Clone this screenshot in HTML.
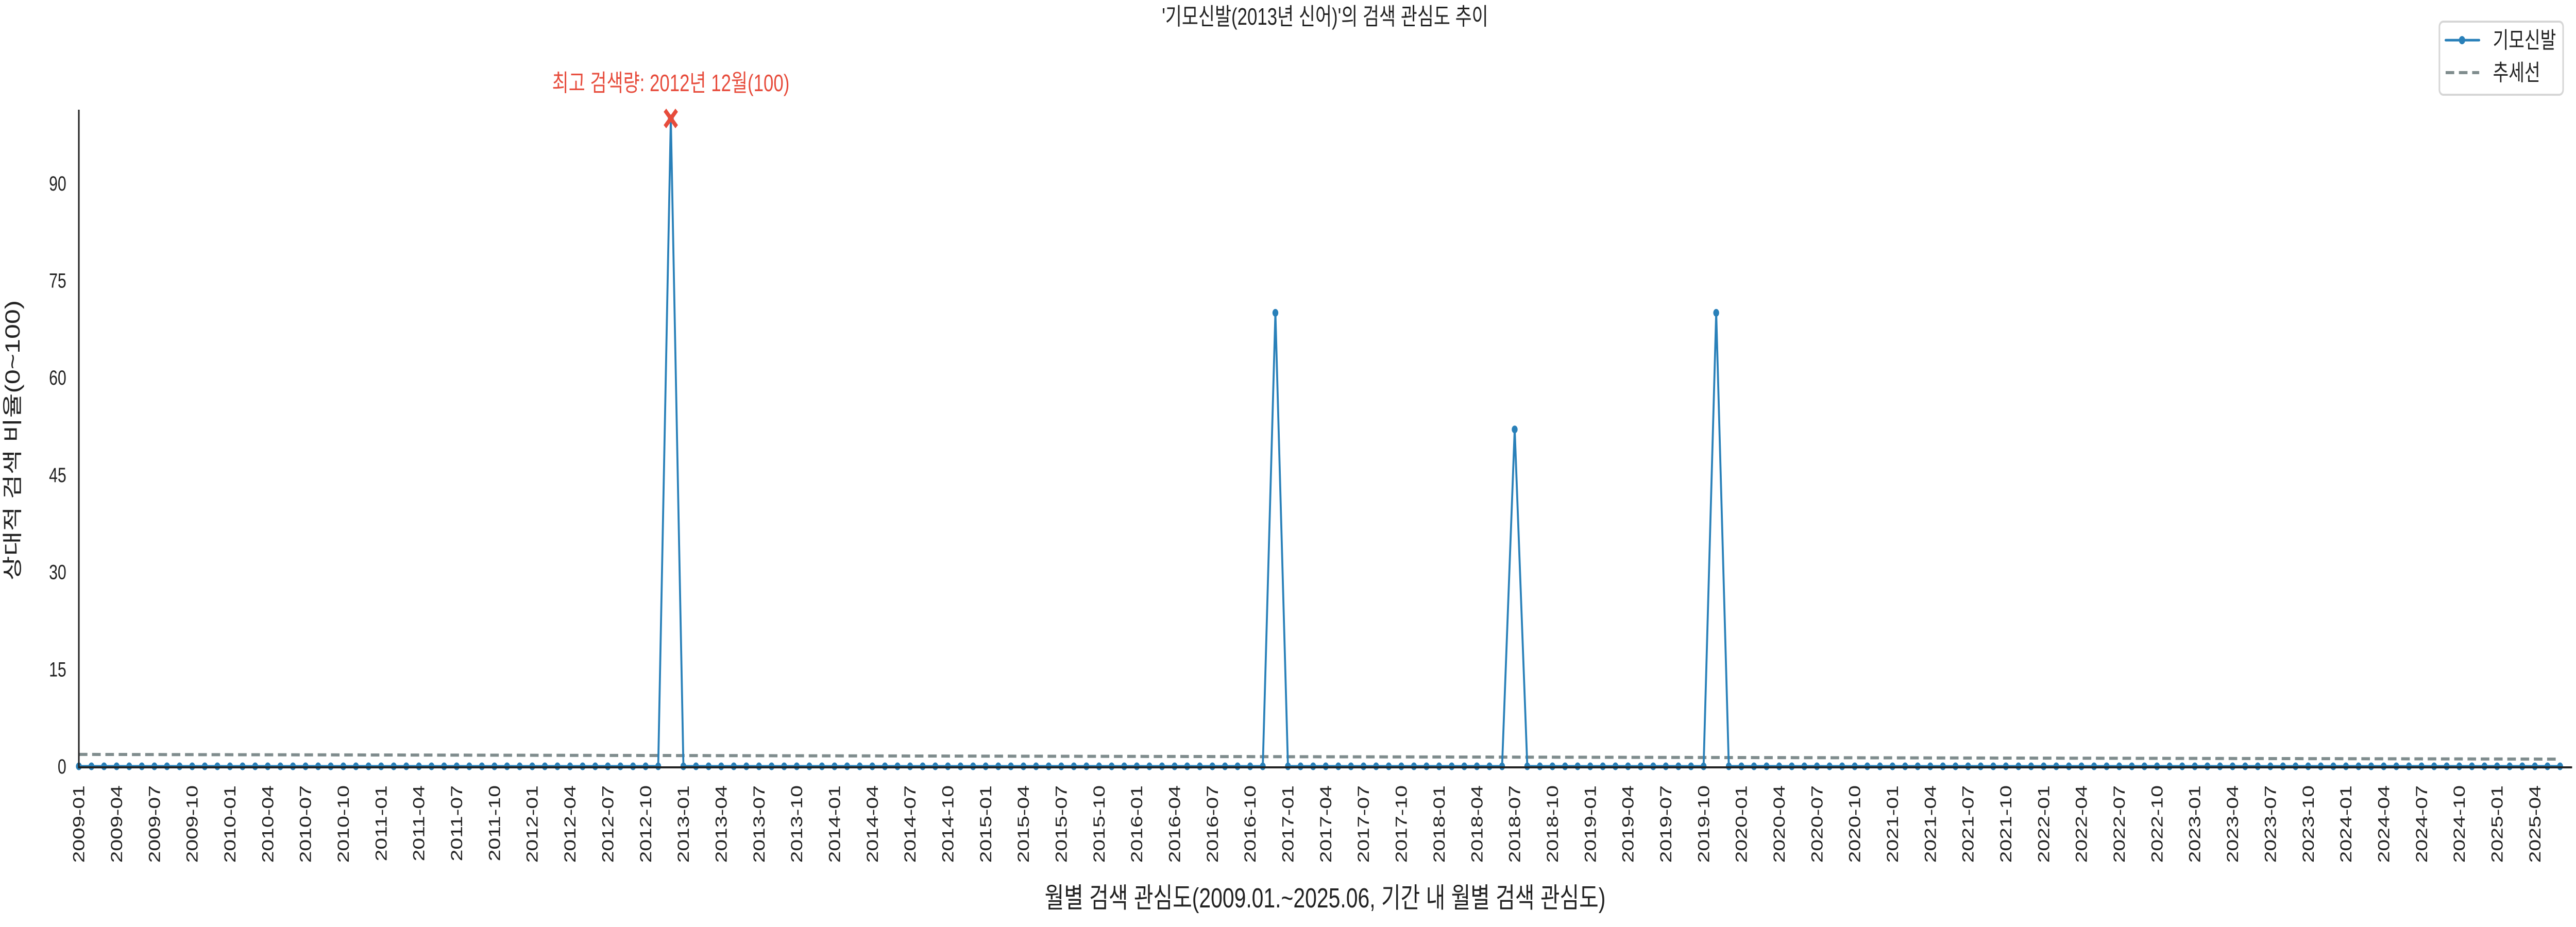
<!DOCTYPE html>
<html><head><meta charset="utf-8"><style>
html,body{margin:0;padding:0;background:#fff;width:100%;height:100%;overflow:hidden;}
svg{display:block;position:absolute;left:0;top:0;width:100vw;height:100vh;font-family:"Liberation Sans","Noto Sans CJK KR",sans-serif;}
</style></head><body>
<svg id="chart" viewBox="0 0 6600 1800" preserveAspectRatio="none" xmlns="http://www.w3.org/2000/svg">
<text x="3395" y="48" text-anchor="middle" font-size="46" fill="#222">'기모신발(2013년 신어)'의 검색 관심도 추이</text>
<text transform="translate(50,855) rotate(-90)" text-anchor="middle" font-size="52" fill="#222">상대적 검색 비율(0~100)</text>
<text x="3395" y="1762" text-anchor="middle" font-size="54" fill="#222">월별 검색 관심도(2009.01.~2025.06, 기간 내 월별 검색 관심도)</text>
<g id="grid"></g>
<g id="plot"></g>
<g>
<rect x="6250" y="42" width="317" height="142" rx="10" fill="#fff" stroke="#d6d6d6" stroke-width="4"/>
<line x1="6266" y1="78" x2="6352" y2="78" stroke="#2980b9" stroke-width="5" stroke-linecap="round"/>
<circle cx="6308" cy="78" r="8" fill="#2980b9"/>
<text x="6387" y="93" font-size="44" fill="#222">기모신발</text>
<line x1="6266" y1="141" x2="6352" y2="141" stroke="#7f8c8d" stroke-width="6" stroke-dasharray="22,12"/>
<text x="6387" y="156" font-size="44" fill="#222">추세선</text>
</g>
</svg>
<script>
const startYear = 2009;
const monthCount = 198;
const peakMonths = ["2012-12", "2016-12", "2018-07", "2019-11"];
const peakValues = [100, 70, 52, 70];
const yTickValues = [0, 15, 30, 45, 60, 75, 90];
const maxLabel = "최고 검색량: 2012년 12월(100)";

const NS = "http://www.w3.org/2000/svg";
const X0 = 202, STEP = 32.27, Y0 = 1488, K = 12.58;
const xs = i => X0 + i * STEP;
const ys = v => Y0 - v * K;
function mk(tag, attrs, parent){ const e=document.createElementNS(NS,tag); for(const k in attrs) e.setAttribute(k,attrs[k]); parent.appendChild(e); return e; }

const labels = [], values = [];
for (let i=0;i<monthCount;i++){
  const y = startYear + Math.floor(i/12), m = i%12+1;
  labels.push(y + "-" + String(m).padStart(2,"0"));
  values.push(0);
}
peakMonths.forEach((p,j)=>{ const idx = labels.indexOf(p); if(idx>=0) values[idx]=peakValues[j]; });

const plot = document.getElementById("plot");
const grid = document.getElementById("grid");

yTickValues.forEach(v=>{
  const t = mk("text",{x:170,y:ys(v)+14,"text-anchor":"end","font-size":"40",fill:"#222"},grid);
  t.textContent = v;
  
  
});
for (let i=0;i<monthCount;i+=3){
  const x = xs(i);
  const t = mk("text",{transform:`translate(${x+14},1525) rotate(-90)`,"text-anchor":"end","font-size":"41",fill:"#222"},grid);
  t.textContent = labels[i];
  
  
}

let n=values.length, sx=0, sy=0, sxx=0, sxy=0;
values.forEach((v,i)=>{sx+=i;sy+=v;sxx+=i*i;sxy+=i*v;});
const slope=(n*sxy-sx*sy)/(n*sxx-sx*sx), icpt=(sy-slope*sx)/n;
const trend = mk("line",{x1:xs(0),y1:ys(icpt),x2:xs(n-1),y2:ys(icpt+slope*(n-1)),stroke:"#7f8c8d","stroke-width":"6","stroke-dasharray":"22,12"},plot);



const pts = values.map((v,i)=>xs(i).toFixed(1)+","+ys(v).toFixed(1)).join(" ");
const line = mk("polyline",{points:pts,fill:"none",stroke:"#2980b9","stroke-width":"5","stroke-linejoin":"round"},plot);


values.forEach((v,i)=>{
  const c = mk("circle",{cx:xs(i),cy:ys(v),r:7.5,fill:"#2980b9"},plot);
  
  
});

const ax1 = mk("line",{x1:202,y1:213,x2:202,y2:1490,stroke:"#222","stroke-width":"4"},plot);


const ax2 = mk("line",{x1:200,y1:1490,x2:6590,y2:1490,stroke:"#222","stroke-width":"4"},plot);



let mi=0; values.forEach((v,i)=>{ if(v>values[mi]) mi=i; });
const mx=xs(mi), my=ys(values[mi]);
const xm = mk("path",{d:`M${mx-15},${my-16}L${mx+15},${my+16}M${mx+15},${my-16}L${mx-15},${my+16}`,stroke:"#e74c3c","stroke-width":"9"},plot);


const at = mk("text",{x:mx,y:my-53,"text-anchor":"middle","font-size":"46",fill:"#e74c3c"},plot);
at.textContent = maxLabel;


</script>
</body></html>
